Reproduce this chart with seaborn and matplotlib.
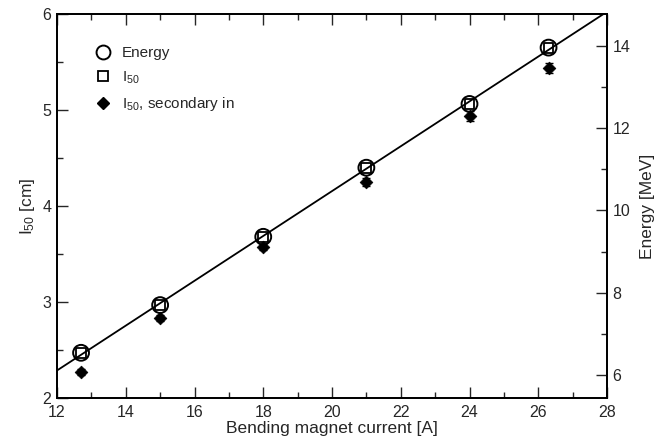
import numpy as np
import pandas as pd
import matplotlib
matplotlib.use("Agg")
import matplotlib.pyplot as plt
from matplotlib.lines import Line2D
from matplotlib.ticker import MultipleLocator
import seaborn as sns

# Bending magnet current [A]
current = [12.7, 15.0, 18.0, 21.0, 24.0, 26.3]
# Beam energy [MeV]
energy = [6.54, 7.70, 9.36, 11.04, 12.59, 13.96]
# I50 depth [cm]
i50 = [2.47, 2.97, 3.68, 4.40, 5.06, 5.65]
# I50 depth with secondary collimator in [cm]
i50_secondary = [2.27, 2.83, 3.57, 4.25, 4.94, 5.44]
i50_secondary_err = [0.03, 0.03, 0.03, 0.04, 0.05, 0.05]

x_ticks = [12, 14, 16, 18, 20, 22, 24, 26, 28]
left_ticks = [2, 3, 4, 5, 6]
right_ticks = [6, 8, 10, 12, 14]

# linear relation between depth and energy axes
E_PER_CM = 2.334
E_OFFSET = 5.441 - 2 * E_PER_CM

df = pd.DataFrame({"current": current, "energy": energy, "i50": i50,
                   "i50_sec": i50_secondary, "err": i50_secondary_err})

sns.set_style("ticks")
plt.rcParams["font.family"] = ["Liberation Sans", "DejaVu Sans"]
plt.rcParams["mathtext.fontset"] = "custom"
plt.rcParams["mathtext.rm"] = "Liberation Sans"
plt.rcParams["mathtext.it"] = "Liberation Sans:italic"

fig = plt.figure(figsize=(6.62, 4.41), dpi=100)
ax = fig.add_axes([57 / 662, 1 - 398 / 441, 550 / 662, 384 / 441])
ax2 = ax.twinx()

ax.set_xlim(12, 28)
ax.set_ylim(2, 6)
ax2.set_ylim(2 * E_PER_CM + E_OFFSET, 6 * E_PER_CM + E_OFFSET)

# linear fit of the I50 values across the full current range
coef = np.polyfit(df["current"], df["i50"], 1)
xs = np.array([12, 28])
ax.plot(xs, np.polyval(coef, xs), color="black", lw=1.3, zorder=2)

ax.errorbar(df["current"], df["i50_sec"], yerr=df["err"], fmt="none",
            ecolor="black", elinewidth=1.0, capsize=3, capthick=1.0, zorder=3)
sns.scatterplot(data=df, x="current", y="i50_sec", ax=ax, marker="D",
                s=42, color="black", edgecolor="black", linewidth=0.5, zorder=4)
sns.scatterplot(data=df, x="current", y="i50", ax=ax, marker="s",
                s=50, facecolor="none", edgecolor="black", linewidth=1.3, zorder=5)
sns.scatterplot(data=df, x="current", y="energy", ax=ax2, marker="o",
                s=130, facecolor="none", edgecolor="black", linewidth=1.4, zorder=5)

ax.set_xticks(x_ticks)
ax.set_yticks(left_ticks)
ax2.set_yticks(right_ticks)
ax.xaxis.set_minor_locator(MultipleLocator(1))
ax.yaxis.set_minor_locator(MultipleLocator(0.5))
ax2.yaxis.set_minor_locator(MultipleLocator(1))

for a in (ax, ax2):
    for s in a.spines.values():
        s.set_linewidth(1.3)
        s.set_color("black")
    a.spines["top"].set_visible(True)
    a.spines["right"].set_visible(True)

ax.tick_params(axis="x", which="both", direction="in", top=True, bottom=True,
               labelsize=11.5, pad=5)
ax.tick_params(axis="y", which="both", direction="in", left=True, right=False,
               labelsize=11.5, pad=4)
ax2.tick_params(axis="y", which="both", direction="in", left=False, right=True,
                labelsize=11.5, pad=4)
for a in (ax, ax2):
    a.tick_params(which="major", length=8, width=1.0)
    a.tick_params(which="minor", length=4, width=1.0)

ax.set_xlabel("Bending magnet current [A]", fontsize=12.5, labelpad=1)
ax.set_ylabel(r"I$_{50}$ [cm]", fontsize=12.5, labelpad=4)
ax2.set_ylabel("Energy [MeV]", fontsize=12.5, labelpad=7)

handles = [
    Line2D([], [], ls="none", marker="o", ms=10, mfc="none", mec="black", mew=1.4),
    Line2D([], [], ls="none", marker="s", ms=6.5, mfc="none", mec="black", mew=1.3),
    Line2D([], [], ls="none", marker="D", ms=6, mfc="black", mec="black"),
]
labels = ["Energy", r"I$_{50}$", r"I$_{50}$, secondary in"]
ax.legend(handles, labels, loc="upper left", bbox_to_anchor=(0.051, 0.94),
          frameon=False, fontsize=11, handletextpad=0.6, labelspacing=0.6,
          handlelength=1.2, borderaxespad=0.2)

fig.savefig("out.png", dpi=100)
